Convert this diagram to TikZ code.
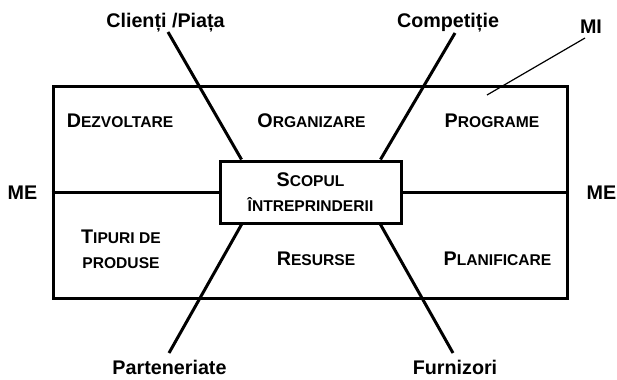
\documentclass[tikz,border=0pt]{standalone}
\usepackage{fontspec}
\setmainfont[BoldFont = {Liberation Sans Bold}]{Liberation Sans}
\usetikzlibrary{positioning}
\newcommand{\bigsz}{\fontsize{14.8}{18.75}\selectfont}
\newcommand{\smallsz}{\fontsize{11.7}{18.75}\selectfont}
% first letter full size, the rest in small capitals
\newcommand{\capword}[2]{{\bigsz #1}{\smallsz #2}}
\tikzset{lbl/.style = {font = \bfseries\bigsz, inner sep = 0}}
\tikzset{field/.style = {font = \bfseries\bigsz, inner sep = 0, align = center}}
\tikzset{frame/.style = {draw, line width = 2.25pt, inner sep = 0}}
\tikzset{spoke/.style = {line width = 2.25pt}}

\begin{document}
\begin{tikzpicture}[x=0.75pt, y=-0.75pt]
      \useasboundingbox (0, 0) rectangle (617, 379);

      % the frame and the core in the middle
      \node (outer) at (310, 192) [frame, minimum width = 385.5pt, minimum height = 159pt] {};
      \node (scope) at (310.5, 192) [frame, field, minimum width = 135.75pt, minimum height = 46.5pt]
            {\capword{S}{COPUL}\\{\smallsz ÎNTREPRINDERII}};
      \draw [spoke] (outer.west) -- (scope.west);
      \draw [spoke] (scope.east) -- (outer.east);

      % fields
      \node (dezv) at (120, 127) [lbl, anchor = base] {\capword{D}{EZVOLTARE}};
      \node (org) at (311.5, 127) [lbl, anchor = base] {\capword{O}{RGANIZARE}};
      \node (prog) at (492, 127) [lbl, anchor = base] {\capword{P}{ROGRAME}};
      \node (tip) at (121, 249.5) [field] {\capword{T}{IPURI DE}\\{\smallsz PRODUSE}};
      \node (res) at (316, 265) [lbl, anchor = base] {\capword{R}{ESURSE}};
      \node (plan) at (497.5, 265) [lbl, anchor = base] {\capword{P}{LANIFICARE}};

      % outside actors
      \node (client) at (165.5, 27) [lbl, anchor = base] {Clienți /Piața};
      \node (comp) at (448, 27) [lbl, anchor = base] {Competiție};
      \node (part) at (169.5, 374) [lbl, anchor = base] {Parteneriate};
      \node (furn) at (455, 374) [lbl, anchor = base] {Furnizori};
      \node (mi) at (591, 33) [lbl, anchor = base] {MI};
      \node (meL) at (22.5, 199) [lbl, anchor = base] {ME};
      \node (meR) at (601.5, 199) [lbl, anchor = base] {ME};

      \coordinate (clOut) at (168, 32);
      \coordinate (coOut) at (455, 33);
      \coordinate (paOut) at (169, 353);
      \coordinate (fuOut) at (453, 353);
      \draw [spoke] (clOut) -- ([xshift = 17.25pt]scope.north west);
      \draw [spoke] (coOut) -- ([xshift = -16.5pt]scope.north east);
      \draw [spoke] (paOut) -- ([xshift = 17.25pt]scope.south west);
      \draw [spoke] (fuOut) -- ([xshift = -16.5pt]scope.south east);

      \coordinate (miOut) at (585, 38);
      \coordinate (miIn) at (487, 95);
      \draw [line width = 0.9pt] (miOut) -- (miIn);
    \end{tikzpicture}
\end{document}
